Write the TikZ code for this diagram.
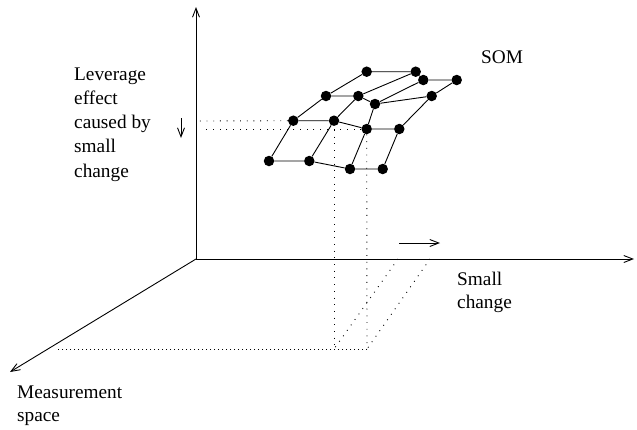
\documentclass[tikz,border=0pt]{standalone}
\usepackage{fontspec}
\setmainfont{Liberation Serif}
\usetikzlibrary{arrows.meta}
\begin{document}
\begin{tikzpicture}[x=1pt,y=-1pt,
  dot/.style={circle,fill=black,inner sep=0pt,minimum size=10.5pt},
  edge/.style={line width=0.9pt},
  axis/.style={line width=0.9pt,-{Straight Barb[length=9pt,width=7pt]}},
  guide/.style={line width=0.9pt,dash pattern=on 0.9pt off 5.8pt},
  guideb/.style={line width=0.9pt,dash pattern=on 1.5pt off 2.5pt},
  lbl/.style={font=\fontsize{19.3}{23.5}\selectfont,anchor=base west,inner sep=0pt}]
\useasboundingbox (0,0) rectangle (637,429);
% axes
\coordinate (O) at (196,259);
\coordinate (Ytop) at (196,7);
\coordinate (Xend) at (634,259);
\coordinate (Zend) at (10,372);
\draw[axis] (O) -- (Ytop);
\draw[axis] (O) -- (Xend);
\draw[axis] (O) -- (Zend);
% SOM nodes
\node[dot] (A1) at (366.7,71.7) {};
\node[dot] (A2) at (415.7,71.7) {};
\node[dot] (A3) at (423.3,80) {};
\node[dot] (A4) at (456.7,80) {};
\node[dot] (B1) at (326,96) {};
\node[dot] (B2) at (358.3,96) {};
\node[dot] (B3) at (375,104) {};
\node[dot] (B4) at (431.7,96) {};
\node[dot] (C1) at (293.3,120.7) {};
\node[dot] (C2) at (334,120.7) {};
\node[dot] (C3) at (366.7,129) {};
\node[dot] (C4) at (399.3,129) {};
\node[dot] (D1) at (269,161) {};
\node[dot] (D2) at (309.3,161) {};
\node[dot] (D3) at (350,169) {};
\node[dot] (D4) at (382.7,169) {};
\draw[edge] (A1) -- (A2) (A2) -- (A3) (A3) -- (A4);
\draw[edge] (B1) -- (B2) (B2) -- (B3) (B3) -- (B4);
\draw[edge] (C1) -- (C2) (C2) -- (C3) (C3) -- (C4);
\draw[edge] (D1) -- (D2) (D2) -- (D3) (D3) -- (D4);
\draw[edge] (A1) -- (B1) (A2) -- (B2) (A3) -- (B3) (A4) -- (B4);
\draw[edge] (B1) -- (C1) (B2) -- (C2) (B3) -- (C3) (B4) -- (C4);
\draw[edge] (C1) -- (D1) (C2) -- (D2) (C3) -- (D3) (C4) -- (D4);
% dotted guides
\coordinate (h1) at (198,121);
\coordinate (h2) at (204,129);
\coordinate (v1s) at (334,130);
\coordinate (v1) at (334,349);
\coordinate (v2) at (367,349);
\coordinate (b1) at (55,349);
\coordinate (d1) at (398,259);
\coordinate (d2) at (430,259);
\draw[guide] (C1) -- (h1);
\draw[guide] (C3) -- (h2);
\draw[guide] (v1s) -- (v1);
\draw[guide] (C3) -- (v2);
\draw[guide] (d1) -- (v1);
\draw[guide] (d2) -- (v2);
\draw[guideb] (v2) -- (b1);
% small arrows
\coordinate (s1) at (399,243);
\coordinate (s2) at (440,243);
\draw[axis] (s1) -- (s2);
\coordinate (l1) at (181,118);
\coordinate (l2) at (181,138);
\draw[axis] (l1) -- (l2);
% labels
\node[lbl] (som) at (481,63) {SOM};
\node[lbl] (lev1) at (74,80) {Leverage};
\node[lbl] (lev2) at (74,104.3) {effect};
\node[lbl] (lev3) at (74,128.6) {caused by};
\node[lbl] (lev4) at (74,152.9) {small};
\node[lbl] (lev5) at (74,177.2) {change};
\node[lbl] (sc1) at (457,285) {Small};
\node[lbl] (sc2) at (457,308.5) {change};
\node[lbl] (ms1) at (17,398) {Measurement};
\node[lbl] (ms2) at (17,421.5) {space};
\end{tikzpicture}
\end{document}
